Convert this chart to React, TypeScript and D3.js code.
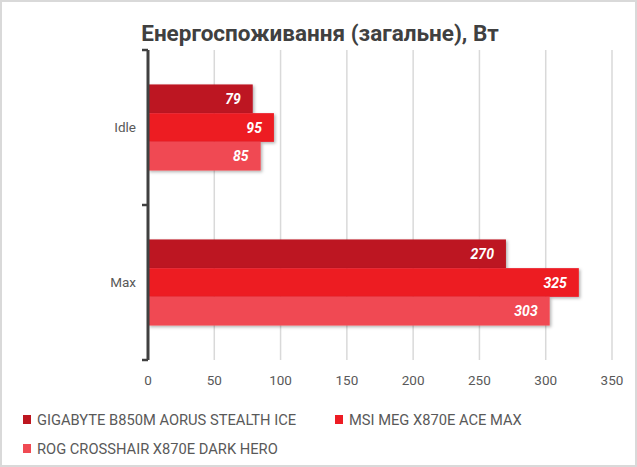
import React from "react"
import * as d3 from "d3"

const categories = ["Idle", "Max"]
const seriesNames = [
  "GIGABYTE B850M AORUS STEALTH ICE",
  "MSI MEG X870E ACE MAX",
  "ROG CROSSHAIR X870E DARK HERO",
]
const seriesValues = [
  [79, 270],
  [95, 325],
  [85, 303],
]
const xTicks = [0, 50, 100, 150, 200, 250, 300, 350]
const colors = ["#bd1620", "#ed1c24", "#f04a53"]

const W = 637
const H = 467
const FONT = "Roboto, 'Noto Sans', sans-serif"

export default function App() {
  const x = d3.scaleLinear().domain([0, 350]).range([148, 612])
  const y = d3.scaleBand().domain(categories).range([50, 360])
  const inner = d3
    .scaleBand()
    .domain(d3.range(seriesNames.length).map(String))
    .range([0, y.bandwidth()])
    .paddingOuter(1.2)

  const legendPos = [
    [23, 420],
    [335, 420],
    [23, 449],
  ]

  return (
    <div style={{ position: "absolute", left: 0, top: 0 }}>
      <svg width={W} height={H} style={{ display: "block", fontFamily: FONT }}>
        <defs>
          <filter id="sh" x="-10%" y="-20%" width="130%" height="160%">
            <feDropShadow dx="1.5" dy="1.5" stdDeviation="1.6" floodColor="#000" floodOpacity="0.3" />
          </filter>
        </defs>
        <rect x={1} y={1} width={W - 2} height={H - 2} fill="#fff" stroke="#d9d9d9" strokeWidth={2} />

        <text x={320} y={41} textAnchor="middle" fontSize={22.5} fontWeight="bold" fill="#404040">
          Енергоспоживання (загальне), Вт
        </text>

        {xTicks.map((t) => (
          <g key={t}>
            <line x1={x(t)} x2={x(t)} y1={50} y2={360} stroke="#d9d9d9" strokeWidth={1.5} />
            <text x={x(t)} y={385} textAnchor="middle" fontSize={13.5} fill="#595959">
              {t}
            </text>
          </g>
        ))}

        {categories.map((c, ci) => (
          <g key={c}>
            {seriesValues.map((vals, si) => (
              <rect
                key={si}
                x={x(0)}
                y={y(c) + inner(String(si))}
                width={x(vals[ci]) - x(0)}
                height={inner.bandwidth()}
                fill={colors[si]}
                filter="url(#sh)"
              />
            ))}
            {seriesValues.map((vals, si) => (
              <text
                key={si}
                x={x(vals[ci]) - 12}
                y={y(c) + inner(String(si)) + inner.bandwidth() / 2}
                dy="0.36em"
                textAnchor="end"
                fontSize={14}
                fontWeight="bold"
                fontStyle="italic"
                fill="#fff"
              >
                {vals[ci]}
              </text>
            ))}
            <text x={136} y={y(c) + y.bandwidth() / 2} dy="0.36em" textAnchor="end" fontSize={13.5} fill="#595959">
              {c}
            </text>
          </g>
        ))}

        <line x1={148} x2={148} y1={50} y2={360} stroke="#404040" strokeWidth={3} />
        {[50, y("Max"), 360].map((t, i) => (
          <line key={i} x1={142} x2={148} y1={t} y2={t} stroke="#404040" strokeWidth={2.5} />
        ))}

        {seriesNames.map((n, i) => (
          <g key={n}>
            <rect x={legendPos[i][0]} y={legendPos[i][1] - 5} width={8} height={9} fill={colors[i]} />
            <text x={legendPos[i][0] + 14} y={legendPos[i][1]} dy="0.36em" fontSize={14.7} fill="#595959">
              {n}
            </text>
          </g>
        ))}
      </svg>
    </div>
  )
}
